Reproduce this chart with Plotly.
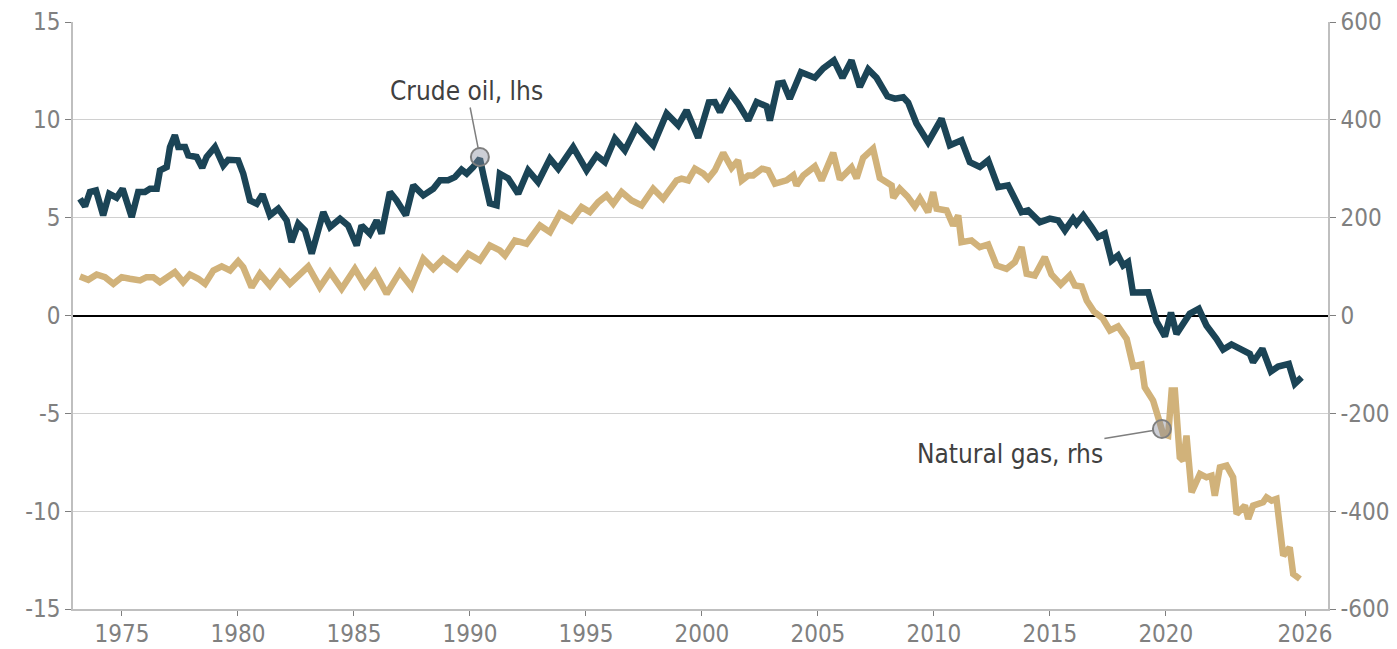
import plotly.graph_objects as go

# crude oil, left axis (decimal years)
crude_dates = [
    1973.19, 1973.41, 1973.62, 1973.88, 1974.19, 1974.45, 1974.77, 1975.03,
    1975.42, 1975.70, 1975.99, 1976.21, 1976.50, 1976.64, 1976.93, 1977.07,
    1977.28, 1977.43, 1977.72, 1977.86, 1978.22, 1978.46, 1978.65, 1979.01,
    1979.37, 1979.58, 1980.01, 1980.23, 1980.52, 1980.81, 1981.06, 1981.38,
    1981.74, 1982.10, 1982.31, 1982.60, 1982.89, 1983.18, 1983.68, 1983.97,
    1984.40, 1984.75, 1985.12, 1985.33, 1985.69, 1985.98, 1986.19, 1986.55,
    1986.84, 1987.24, 1987.56, 1987.99, 1988.42, 1988.71, 1989.06, 1989.35,
    1989.64, 1989.86, 1990.14, 1990.43, 1990.60, 1990.86, 1991.15, 1991.29,
    1991.65, 1992.08, 1992.51, 1992.94, 1993.45, 1993.81, 1994.45, 1995.03,
    1995.46, 1995.82, 1996.25, 1996.68, 1997.18, 1997.90, 1998.48, 1998.98,
    1999.34, 1999.84, 2000.30, 2000.56, 2000.78, 2001.21, 2001.56, 2002.00,
    2002.36, 2002.79, 2002.93, 2003.29, 2003.50, 2003.79, 2004.27, 2004.87,
    2005.23, 2005.69, 2006.06, 2006.45, 2006.81, 2007.17, 2007.53, 2008.00,
    2008.32, 2008.68, 2008.89, 2009.25, 2009.75, 2010.33, 2010.69, 2011.19,
    2011.55, 2011.98, 2012.34, 2012.77, 2013.20, 2013.78, 2014.06, 2014.57,
    2015.00, 2015.36, 2015.65, 2016.00, 2016.15, 2016.44, 2016.80, 2017.08,
    2017.37, 2017.66, 2017.94, 2018.16, 2018.37, 2018.58, 2019.24, 2019.60,
    2019.96, 2020.22, 2020.46, 2020.82, 2021.03, 2021.42, 2021.75, 2022.18,
    2022.47, 2022.83, 2023.19, 2023.62, 2023.76, 2024.16, 2024.53, 2024.84,
    2025.30, 2025.56, 2025.85,
]
crude_values = [
    5.97, 5.58, 6.31, 6.39, 5.12, 6.22, 6.02, 6.48,
    5.03, 6.31, 6.31, 6.48, 6.48, 7.42, 7.59, 8.61,
    9.21, 8.61, 8.61, 8.18, 8.10, 7.55, 8.10, 8.61,
    7.67, 7.96, 7.93, 7.25, 5.88, 5.71, 6.19, 5.12,
    5.46, 4.86, 3.75, 4.69, 4.35, 3.16, 5.28, 4.52,
    4.95, 4.60, 3.58, 4.60, 4.18, 4.86, 4.18, 6.31,
    5.88, 5.12, 6.65, 6.14, 6.48, 6.91, 6.91, 7.07,
    7.45, 7.25, 7.59, 8.02, 7.07, 5.73, 5.63, 7.25,
    7.01, 6.22, 7.42, 6.82, 8.02, 7.50, 8.61, 7.42,
    8.18, 7.84, 9.04, 8.44, 9.63, 8.70, 10.32, 9.72,
    10.49, 9.08, 10.89, 10.91, 10.40, 11.38, 10.83, 9.97,
    10.91, 10.69, 9.97, 11.85, 11.89, 11.08, 12.43, 12.15,
    12.63, 13.04, 12.15, 13.04, 11.68, 12.58, 12.15, 11.20,
    11.08, 11.15, 10.89, 9.81, 8.86, 10.06, 8.70, 8.95,
    7.84, 7.59, 7.93, 6.56, 6.65, 5.28, 5.37, 4.77,
    4.95, 4.86, 4.35, 4.95, 4.69, 5.12, 4.52, 4.01,
    4.18, 2.81, 3.07, 2.56, 2.73, 1.18, 1.19, -0.31,
    -1.07, 0.15, -0.94, -0.36, 0.09, 0.34, -0.51, -1.19,
    -1.74, -1.48, -1.66, -1.96, -2.39, -1.70, -2.86, -2.61,
    -2.47, -3.49, -3.16,
]

# natural gas, right axis (decimal years)
gas_dates = [
    1973.19, 1973.55, 1973.91, 1974.27, 1974.63, 1974.99, 1975.34, 1975.78,
    1976.06, 1976.35, 1976.64, 1977.00, 1977.28, 1977.64, 1977.93, 1978.29,
    1978.58, 1978.94, 1979.30, 1979.66, 1980.01, 1980.23, 1980.59, 1980.95,
    1981.38, 1981.81, 1982.24, 1983.03, 1983.53, 1983.97, 1984.47, 1985.04,
    1985.47, 1985.91, 1986.41, 1986.98, 1987.49, 1987.99, 1988.42, 1988.85,
    1989.43, 1989.93, 1990.43, 1990.86, 1991.29, 1991.51, 1991.94, 1992.44,
    1993.02, 1993.45, 1993.88, 1994.38, 1994.81, 1995.17, 1995.53, 1995.89,
    1996.18, 1996.54, 1996.97, 1997.40, 1997.90, 1998.33, 1998.91, 1999.12,
    1999.41, 1999.70, 2000.06, 2000.27, 2000.56, 2000.92, 2001.28, 2001.56,
    2001.72, 2002.00, 2002.21, 2002.59, 2002.86, 2003.15, 2003.65, 2003.94,
    2004.08, 2004.37, 2004.87, 2005.16, 2005.66, 2005.95, 2006.45, 2006.67,
    2006.95, 2007.38, 2007.67, 2008.18, 2008.25, 2008.53, 2008.86, 2009.18,
    2009.40, 2009.75, 2009.97, 2010.12, 2010.55, 2010.83, 2011.05, 2011.19,
    2011.62, 2011.98, 2012.34, 2012.70, 2013.13, 2013.49, 2013.78, 2014.00,
    2014.35, 2014.78, 2015.07, 2015.47, 2015.86, 2016.08, 2016.37, 2016.59,
    2016.90, 2017.28, 2017.59, 2017.94, 2018.31, 2018.59, 2018.95, 2019.09,
    2019.45, 2019.67, 2019.88, 2020.10, 2020.25, 2020.39, 2020.60, 2020.75,
    2020.89, 2021.11, 2021.47, 2021.75, 2021.97, 2022.11, 2022.33, 2022.62,
    2022.90, 2023.05, 2023.41, 2023.55, 2023.76, 2024.19, 2024.34, 2024.56,
    2024.77, 2025.06, 2025.34, 2025.49, 2025.78,
]
gas_values = [
    79.8, 73.0, 83.9, 78.4, 64.9, 78.4, 75.1, 71.6,
    78.4, 78.4, 68.1, 78.4, 88.6, 68.1, 83.9, 75.1,
    64.9, 92.1, 100.3, 92.1, 111.1, 98.8, 57.9, 85.3,
    61.4, 88.0, 64.9, 100.3, 57.9, 88.6, 54.6, 95.5,
    61.4, 88.6, 44.4, 88.6, 57.9, 116.0, 95.5, 116.0,
    95.5, 126.2, 112.5, 143.2, 133.0, 122.8, 153.5, 146.7,
    184.1, 170.4, 208.1, 194.4, 221.6, 211.3, 231.8, 245.5,
    228.5, 252.3, 235.3, 225.1, 259.2, 238.8, 276.2, 279.7,
    276.2, 300.1, 289.9, 279.7, 296.7, 332.5, 301.8, 317.1,
    276.2, 286.4, 286.4, 300.1, 296.7, 269.5, 276.2, 286.4,
    266.0, 286.4, 304.9, 276.2, 332.5, 278.3, 302.8, 280.3,
    322.2, 341.1, 281.3, 266.0, 240.4, 259.2, 243.5, 223.0,
    239.4, 211.3, 252.3, 218.3, 214.8, 184.1, 204.6, 150.0,
    153.5, 139.7, 145.3, 102.3, 95.5, 109.1, 139.7, 85.3,
    81.8, 119.3, 83.9, 63.4, 81.8, 61.4, 59.3, 30.7,
    8.2, -6.1, -30.7, -22.5, -47.7, -104.3, -100.3, -146.7,
    -173.9, -208.1, -242.0, -245.5, -153.5, -153.5, -289.9, -296.7,
    -245.5, -361.5, -323.9, -330.8, -327.4, -368.3, -310.4, -306.9,
    -330.8, -405.7, -388.7, -416.0, -388.7, -382.0, -371.8, -378.5,
    -375.0, -491.0, -474.1, -528.5, -538.7,
]

tick_years = [1975, 1980, 1985, 1990, 1995, 2000, 2005, 2010, 2015, 2020, 2026]
tick_labels = [str(y) for y in tick_years]
lhs_ticks = [-15, -10, -5, 0, 5, 10, 15]
rhs_ticks = [-600, -400, -200, 0, 200, 400, 600]

crude_label = 'Crude oil, lhs'
crude_callout = (1990.43, 8.1)
gas_label = 'Natural gas, rhs'
gas_callout = (2019.83, -232.0)

CRUDE_COLOR = '#1b4456'
GAS_COLOR = '#d1b27a'
FONT_FAMILY = 'DejaVu Sans Condensed, DejaVu Sans'
TICK_FONT = dict(family=FONT_FAMILY, size=24, color='#808080')

fig = go.Figure()
fig.add_trace(go.Scatter(x=gas_dates, y=gas_values, yaxis='y2', mode='lines',
                         line=dict(color=GAS_COLOR, width=6.5),
                         name='Natural gas'))
fig.add_trace(go.Scatter(x=crude_dates, y=crude_values, mode='lines',
                         line=dict(color=CRUDE_COLOR, width=6.5),
                         name='Crude oil'))

circle = dict(size=18, color='rgba(135,140,158,0.42)',
              line=dict(color='#7f7f7f', width=2))
fig.add_trace(go.Scatter(x=[crude_callout[0]], y=[crude_callout[1]],
                         mode='markers', marker=circle, hoverinfo='skip'))
fig.add_trace(go.Scatter(x=[gas_callout[0]], y=[gas_callout[1]], yaxis='y2',
                         mode='markers', marker=circle, hoverinfo='skip'))

ann_font = dict(family=FONT_FAMILY, size=26, color='#404040')
fig.add_annotation(x=crude_callout[0], y=crude_callout[1], text=crude_label,
                   showarrow=True, arrowhead=0, arrowwidth=1.5,
                   arrowcolor='#7f7f7f', standoff=9, ax=-13, ay=-66,
                   font=ann_font)
fig.add_annotation(x=gas_callout[0], y=gas_callout[1], yref='y2',
                   text=gas_label, showarrow=True, arrowhead=0,
                   arrowwidth=1.5, arrowcolor='#7f7f7f', standoff=9,
                   ax=-152, ay=25, font=ann_font)

fig.update_layout(
    width=1397,
    height=649,
    margin=dict(l=73, r=69, t=22, b=40),
    paper_bgcolor='white',
    plot_bgcolor='white',
    showlegend=False,
    xaxis=dict(range=[1972.89, 2026.99], tickvals=tick_years,
               ticktext=tick_labels, showgrid=False, showline=True,
               linecolor='#bfbfbf', linewidth=1.5, ticks='outside',
               ticklen=5, tickcolor='#7f7f7f', tickfont=TICK_FONT,
               ticklabelstandoff=-3, zeroline=False, automargin=False),
    yaxis=dict(range=[-15, 15], tickvals=lhs_ticks,
               ticktext=[str(v) for v in lhs_ticks], showgrid=True,
               gridcolor='#d0d0d0', gridwidth=1, zeroline=True,
               zerolinecolor='#000000', zerolinewidth=2, showline=True,
               linecolor='#bfbfbf', linewidth=1.5, ticks='outside',
               ticklen=6, tickcolor='#7f7f7f', tickfont=TICK_FONT,
               automargin=False),
    yaxis2=dict(range=[-600, 600], tickvals=rhs_ticks,
                ticktext=[str(v) for v in rhs_ticks], overlaying='y',
                side='right', showgrid=False, zeroline=False, showline=True,
                linecolor='#bfbfbf', linewidth=1.5, ticks='outside',
                ticklen=6, tickcolor='#7f7f7f', tickfont=TICK_FONT,
                automargin=False),
)

# drop the default page margin so the fixed-size figure fills the window
fig.write_html('out.html', config={'displayModeBar': False},
               post_script="document.body.style.margin='0';"
                           "document.body.style.overflow='hidden';")
